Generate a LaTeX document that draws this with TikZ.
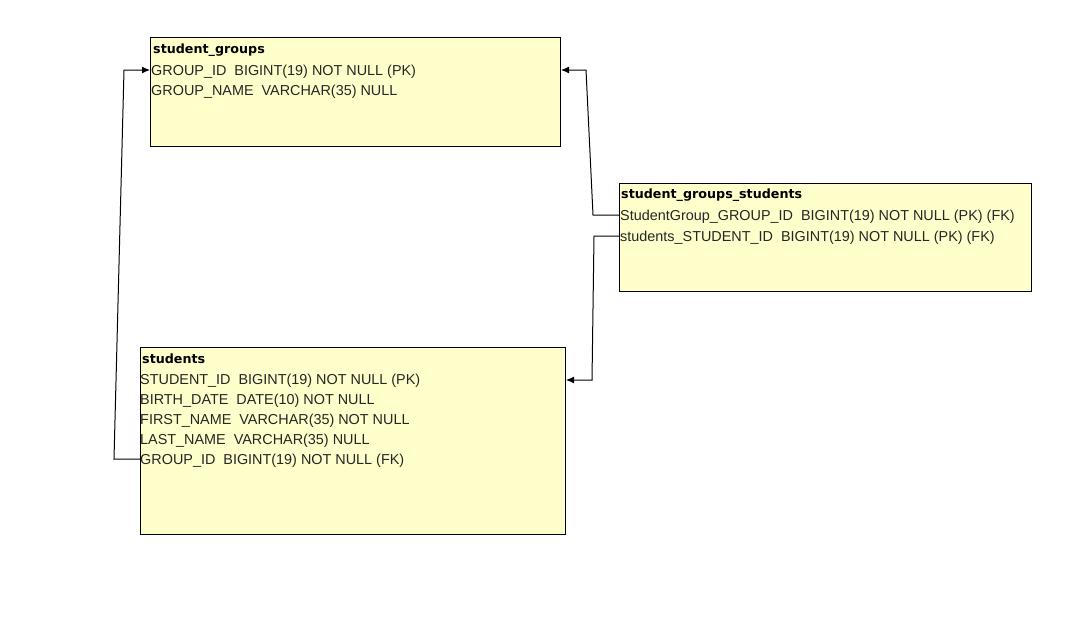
\documentclass[tikz,border=0pt]{standalone}
\usepackage{fontspec}
\setmainfont{Liberation Sans}
\newfontfamily\titlefont{DejaVu Sans}
\usetikzlibrary{arrows.meta}
\definecolor{tblfill}{RGB}{255,255,204}
\tikzset{
  x=1pt, y=-1pt,
  tbl/.style={draw=black, line width=1pt, fill=tblfill},
  ttl/.style={anchor=west, inner sep=0pt, font=\titlefont\bfseries\fontsize{12.7}{14}\selectfont},
  row/.style={anchor=west, inner sep=0pt, text=black!85, font=\fontsize{14.4}{16}\selectfont},
  conn/.style={draw=black, line width=1pt},
  fk/.style={conn, -{Latex[length=8pt,width=7pt]}}
}
\begin{document}
\begin{tikzpicture}
\useasboundingbox (0,0) rectangle (1083,618);
\fill[white] (0,0) rectangle (1083,618);
% tables
\draw[tbl] (150,38) rectangle (560,146);
\node[ttl] (sgT) at (153,50) {student\_groups};
\node[row] (sg1) at (151,72) {GROUP\_ID\ \ BIGINT(19) NOT NULL (PK)};
\node[row] (sg2) at (151,92) {GROUP\_NAME\ \ VARCHAR(35) NULL};

\draw[tbl] (619,183) rectangle (1031,291);
\node[ttl] (sgsT) at (621,195) {student\_groups\_students};
\node[row] (sgs1) at (620,217) {StudentGroup\_GROUP\_ID\ \ BIGINT(19) NOT NULL (PK) (FK)};
\node[row] (sgs2) at (620,238) {students\_STUDENT\_ID\ \ BIGINT(19) NOT NULL (PK) (FK)};

\draw[tbl] (140,347) rectangle (565,534);
\node[ttl] (stT) at (142,359) {students};
\node[row] (st1) at (140,381) {STUDENT\_ID\ \ BIGINT(19) NOT NULL (PK)};
\node[row] (st2) at (140,401) {BIRTH\_DATE\ \ DATE(10) NOT NULL};
\node[row] (st3) at (140,421) {FIRST\_NAME\ \ VARCHAR(35) NOT NULL};
\node[row] (st4) at (140,441) {LAST\_NAME\ \ VARCHAR(35) NULL};
\node[row] (st5) at (140,461) {GROUP\_ID\ \ BIGINT(19) NOT NULL (FK)};

% connector endpoints
\coordinate (sgIn) at (150,70);
\coordinate (sgInR) at (561,70);
\coordinate (stIn) at (566,380);
\coordinate (stOut) at (140,459);
\coordinate (sgsOut1) at (619,215);
\coordinate (sgsOut2) at (619,236);

\draw[fk] (stOut) -- (114,459) -- (124,70) -- (sgIn);
\draw[fk] (sgsOut1) -- (593,215) -- (586,70) -- (sgInR);
\draw[fk] (sgsOut2) -- (594,236) -- (592,380) -- (stIn);
\end{tikzpicture}
\end{document}
